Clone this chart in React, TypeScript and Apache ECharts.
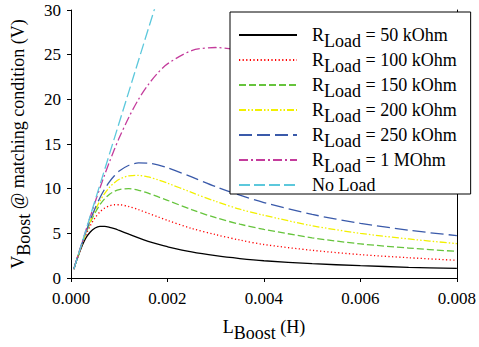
import React, { useEffect, useRef } from "react";
import * as echarts from "echarts";

const L = [0.00006, 0.0001, 0.0002, 0.0003, 0.0004, 0.0005, 0.0006, 0.0007, 0.0008, 0.0009, 0.001, 0.0012, 0.0014, 0.0016, 0.0018, 0.002, 0.0025, 0.003, 0.0035, 0.004, 0.005, 0.006, 0.007, 0.008];
const v50k = [1.0, 1.7, 3.2, 4.4, 5.15, 5.6, 5.78, 5.78, 5.68, 5.52, 5.32, 4.9, 4.48, 4.1, 3.78, 3.5, 2.92, 2.5, 2.18, 1.93, 1.6, 1.38, 1.2, 1.07];
const v100k = [1.0, 1.7, 3.3, 4.7, 5.85, 6.75, 7.4, 7.83, 8.08, 8.2, 8.2, 8.0, 7.65, 7.25, 6.85, 6.45, 5.55, 4.85, 4.25, 3.75, 3.1, 2.62, 2.27, 1.98];
const v150k = [1.0, 1.73, 3.38, 4.88, 6.2, 7.3, 8.2, 8.88, 9.37, 9.7, 9.9, 10.0, 9.82, 9.5, 9.1, 8.7, 7.65, 6.75, 6.02, 5.45, 4.5, 3.82, 3.35, 2.98];
const v200k = [1.0, 1.72, 3.38, 4.94, 6.35, 7.58, 8.62, 9.48, 10.16, 10.67, 11.05, 11.44, 11.48, 11.31, 11.0, 10.62, 9.58, 8.58, 7.7, 7.02, 5.85, 5.0, 4.37, 3.85];
const v250k = [1.0, 1.74, 3.42, 5.02, 6.5, 7.82, 8.99, 9.97, 10.8, 11.45, 11.97, 12.62, 12.88, 12.86, 12.66, 12.34, 11.31, 10.23, 9.28, 8.45, 7.12, 6.12, 5.35, 4.74];
const v1M = [1.0, 1.75, 3.48, 5.19, 6.87, 8.5, 10.08, 11.59, 13.03, 14.4, 15.69, 18.0, 20.0, 21.63, 22.95, 23.97, 25.45, 25.8, 25.45, 24.7, 22.65, 20.55, 18.65, 17.0];
const noLoadL = [0.00006, 0.0005, 0.001, 0.0015, 0.0018];
const noLoadV = [1.0, 8.7, 17.4, 26.1, 31.3];

const legendLabels = [
  "{r|R}{s|Load}{r| = 50 kOhm}",
  "{r|R}{s|Load}{r| = 100 kOhm}",
  "{r|R}{s|Load}{r| = 150 kOhm}",
  "{r|R}{s|Load}{r| = 200 kOhm}",
  "{r|R}{s|Load}{r| = 250 kOhm}",
  "{r|R}{s|Load}{r| = 1 MOhm}",
  "{r|No Load}",
];
const seriesNames = ["50k", "100k", "150k", "200k", "250k", "1M", "none"];
const xTicks = ["0.000", "0.002", "0.004", "0.006", "0.008"];

const FONT = "Liberation Serif";

export default function App() {
  const ref = useRef<HTMLDivElement>(null);
  useEffect(() => {
    if (!ref.current) return;
    const chart = echarts.init(ref.current, undefined, { renderer: "svg" });
    const pairs = (xs: number[], ys: number[]) => xs.map((x, i) => [x, ys[i]]);
    const styles = [
      { color: "#000000", type: "solid" as any },
      { color: "#ff0000", type: [1.2, 2.4] },
      { color: "#66c43c", type: [7, 3] },
      { color: "#f2f000", type: [7, 2, 1.5, 2, 1.5, 2] },
      { color: "#3a5aaa", type: [13, 5] },
      { color: "#c43c9c", type: [9, 3, 2, 3] },
      { color: "#5cc8dc", type: [11, 4] },
    ];
    const dataSets = [v50k, v100k, v150k, v200k, v250k, v1M];
    const series: any[] = dataSets.map((d, i) => ({
      name: seriesNames[i],
      type: "line",
      data: pairs(L, d),
      showSymbol: false,
      symbol: "none",
      smooth: 0.3,
      lineStyle: { color: styles[i].color, width: 1.3, type: styles[i].type },
      itemStyle: { color: styles[i].color },
    }));
    series.push({
      name: seriesNames[6],
      type: "line",
      data: pairs(noLoadL, noLoadV),
      showSymbol: false,
      symbol: "none",
      lineStyle: { color: styles[6].color, width: 1.3, type: styles[6].type },
      itemStyle: { color: styles[6].color },
    });
    const rich = {
      r: { fontFamily: FONT, fontSize: 18, color: "#000", lineHeight: 30 },
      s: { fontFamily: FONT, fontSize: 18, color: "#000", lineHeight: 15, verticalAlign: "bottom" },
    };
    chart.setOption({
      animation: false,
      textStyle: { fontFamily: FONT },
      grid: { left: 71, right: 20, top: 10, bottom: 65 },
      legend: {
        orient: "vertical",
        left: 230,
        top: 12,
        padding: [14, 14, 0, 8],
        itemGap: 1,
        itemWidth: 58,
        itemHeight: 14,
        borderColor: "#000",
        borderWidth: 1,
        backgroundColor: "#fff",
        itemStyle: { opacity: 0, borderWidth: 0 },
        data: seriesNames,
        formatter: (n: string) => legendLabels[seriesNames.indexOf(n)],
        textStyle: { fontFamily: FONT, fontSize: 18, color: "#000", padding: [0, 0, 0, 10], rich },
      },
      xAxis: {
        type: "value",
        min: 0,
        max: 0.008,
        interval: 0.002,
        splitLine: { show: false },
        axisLine: { lineStyle: { color: "#000", width: 1 } },
        axisTick: { inside: false, length: 4, lineStyle: { color: "#000" } },
        axisLabel: {
          fontFamily: FONT,
          fontSize: 17,
          color: "#000",
          margin: 12,
          formatter: (v: number) => xTicks[Math.round(v / 0.002)] ?? "",
        },
        name: "{r|L}{s|Boost}{r| (H)}",
        nameLocation: "middle",
        nameGap: 34,
        nameTextStyle: { rich },
      },
      yAxis: [
        {
          type: "value",
          min: 0,
          max: 30,
          interval: 5,
          splitLine: { show: false },
          axisLine: { show: true, lineStyle: { color: "#000", width: 1 } },
          axisTick: { show: true, length: 4, lineStyle: { color: "#000" } },
          axisLabel: { fontFamily: FONT, fontSize: 17, color: "#000", margin: 10 },
          name: "{r|V}{s|Boost}{r| @ matching condition (V)}",
          nameLocation: "middle",
          nameGap: 34,
          nameTextStyle: { rich },
        },
        {
          type: "value",
          position: "right",
          min: 0,
          max: 30,
          interval: 5,
          splitLine: { show: false },
          axisLine: { show: true, lineStyle: { color: "#000", width: 1 } },
          axisTick: { show: false },
          axisLabel: { show: false },
        },
      ],
      series,
    });
    return () => chart.dispose();
  }, []);
  return <div ref={ref} style={{ width: 479, height: 347, position: "absolute", left: 0, top: 0 }} />;
}
